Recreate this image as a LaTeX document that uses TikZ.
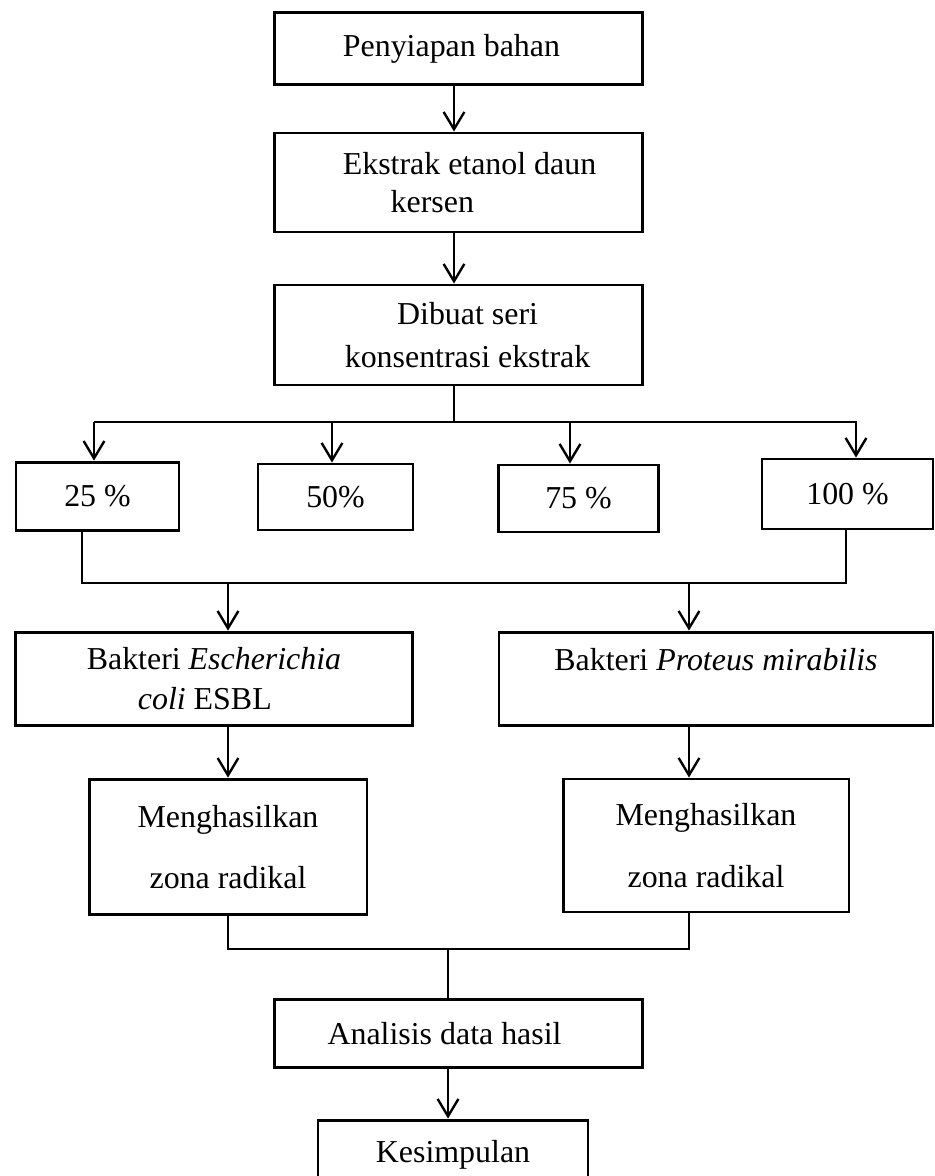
\documentclass[tikz,border=0pt]{standalone}
\usepackage{fontspec}
\setmainfont{Liberation Serif}
\usetikzlibrary{arrows.meta}
\begin{document}
\begin{tikzpicture}[x=0.376pt,y=-0.376pt,
    box/.style={draw,line width=1.1pt,inner sep=2pt,font=\fontsize{12}{14}\selectfont},
    line/.style={line width=0.9pt},
    arr/.style={line width=0.9pt,-{Straight Barb[length=6.5pt,width=7.8pt]}}]
  \useasboundingbox (0,0) rectangle (935,1176);
  \node[box,minimum width=138.7pt,minimum height=27.4pt] (pen) at (458.5,48.5) {Penyiapan bahan\hspace*{5.3pt}};
  \node[box,minimum width=138.7pt,minimum height=37.2pt,align=left] (eks) at (458.5,182.5)
      {\hspace*{8.3pt}Ekstrak etanol daun\\\hspace*{26.3pt}kersen};
  \node[box,minimum width=138.7pt,minimum height=37.6pt,align=center] (seri) at (458.5,335)
      {\hspace*{6.8pt}Dibuat seri\\[2pt]\hspace*{6.8pt}konsentrasi ekstrak};
  \node[box,minimum width=61.3pt,minimum height=25.9pt] (k25) at (97.5,496.5) {25 \%};
  \node[box,minimum width=58.3pt,minimum height=24.8pt] (k50) at (335.5,497) {50\%};
  \node[box,minimum width=60.5pt,minimum height=25.2pt] (k75) at (578.5,498.5) {75 \%};
  \node[box,minimum width=64.3pt,minimum height=26.3pt] (k100) at (847.5,494) {100 \%};
  \node[box,minimum width=149.6pt,minimum height=35.3pt,align=left] (eco) at (214,679)
      {Bakteri \textit{Escherichia}\\[1pt]\hspace*{1.6em}\textit{coli} ESBL};
  \node[box,minimum width=163.2pt,minimum height=35.3pt,align=center] (pmi) at (716,679)
      {Bakteri \textit{Proteus mirabilis}\\[1pt]\mbox{}};
  \node[box,minimum width=104.5pt,minimum height=51.1pt,align=center] (hasL) at (228,847)
      {Menghasilkan\\[9pt]zona radikal};
  \node[box,minimum width=107.5pt,minimum height=50pt,align=center] (hasR) at (706,845.5)
      {Menghasilkan\\[9pt]zona radikal};
  \node[box,minimum width=138.7pt,minimum height=25.9pt] (ana) at (458.5,1033.5) {Analisis data hasil\hspace*{10.5pt}};
  \node[box,minimum width=101.5pt,minimum height=26.3pt] (kes) at (453,1155) {Kesimpulan};

  \coordinate (spine) at (454,422);
  \coordinate (jL) at (82,583);
  \coordinate (jR) at (846,583);
  \coordinate (cL) at (228,583);
  \coordinate (cR) at (689,583);
  \coordinate (mid) at (448,949);

  \draw[arr] (spine |- pen.south) -- (spine |- eks.north);
  \draw[arr] (spine |- eks.south) -- (spine |- seri.north);
  \draw[line width=0.4pt] (spine |- seri.south) -- (spine);
  \draw[line] (94,422) -- (857,422);
  \foreach \x/\n in {94/k25,332/k50,570/k75,856/k100}
    \draw[arr] (\x,422) -- (\x,0 |- \n.north);
  \draw[line] (jL |- k25.south) -- (jL) -- (jR) -- (jR |- k100.south);
  \draw[arr] (cL) -- (cL |- eco.north);
  \draw[arr] (cR) -- (cR |- pmi.north);
  \draw[arr] (cL |- eco.south) -- (cL |- hasL.north);
  \draw[arr] (cR |- pmi.south) -- (cR |- hasR.north);
  \draw[line] (cL |- hasL.south) -- (cL |- mid) -- (cR |- mid) -- (cR |- hasR.south);
  \draw[line] (mid) -- (mid |- ana.north);
  \draw[arr] (mid |- ana.south) -- (mid |- kes.north);
\end{tikzpicture}
\end{document}
